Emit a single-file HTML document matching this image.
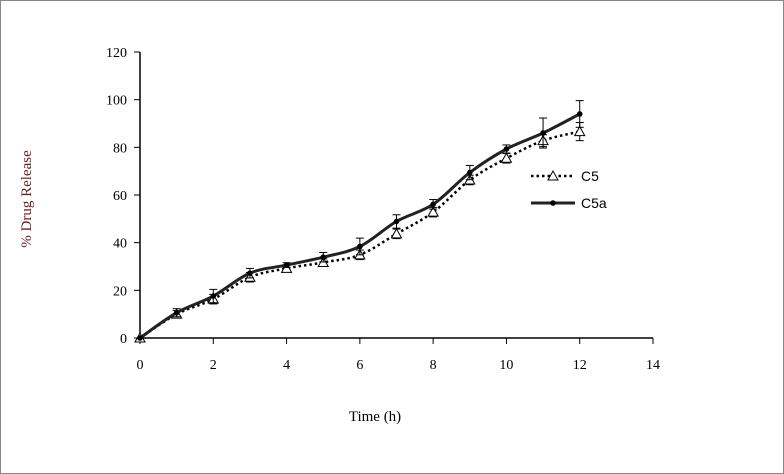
<!DOCTYPE html>
<html><head><meta charset="utf-8"><style>
html,body{margin:0;padding:0;background:#fff}
svg{display:block}
text{font-family:"Liberation Serif",serif;fill:#000}
</style></head><body>
<svg id="chart" width="784" height="474">
<rect x="0.5" y="0.5" width="783" height="473" fill="#fff" stroke="#888"/>
<g id="axes"></g><g id="series"></g>
<text x="375" y="421" font-size="15" text-anchor="middle">Time (h)</text>
<text transform="translate(31,199) rotate(-90)" font-size="15" text-anchor="middle" fill="#7a2a2a" style="fill:#6b2020">% Drug Release</text>
<g>
<g>
<line x1="531" y1="176" x2="575" y2="176" stroke="#000" stroke-width="2.5" stroke-dasharray="2.5,3"/>
<polygon points="553,171 548,180 558,180" fill="#fff" stroke="#000" stroke-width="1"/>
<text x="581" y="181" font-size="14" style="font-family:'Liberation Sans',sans-serif">C5</text></g>
<g>
<line x1="531" y1="203" x2="575" y2="203" stroke="#222" stroke-width="3"/>
<circle cx="553" cy="203" r="2.8" fill="#000"/>
<text x="581" y="208" font-size="14" style="font-family:'Liberation Sans',sans-serif">C5a</text></g>
</g>
</svg>
<script>
const times=[0,1,2,3,4,5,6,7,8,9,10,11,12];
const c5=[0,10,16.3,25.5,29.2,31.7,34.9,43.7,52.8,66.3,75.4,82.8,86.6];
const c5Err=[0,1.5,2,2,1.5,1.5,2,2,2,2,2,2.5,3.8];
const c5a=[0,10.6,17.6,27.2,30.6,33.9,38.4,48.9,56.1,69.4,79.3,86,94];
const c5aErr=[0,1.7,2.8,2,1,2,3.5,2.8,2,3,1.7,6.3,5.6];
const xTicks=[0,2,4,6,8,10,12,14];
const yTicks=[0,20,40,60,80,100,120];
const X=v=>140+v*(653-140)/14, Y=v=>338-v*(338-52)/120;
const NS="http://www.w3.org/2000/svg";
function mk(p,t,a){const e=document.createElementNS(NS,t);for(const k in a)e.setAttribute(k,a[k]);p.appendChild(e);return e;}
const ax=document.getElementById('axes');
let l=mk(ax,'line',{x1:X(0),y1:Y(0),x2:X(14),y2:Y(0),stroke:'#000','stroke-width':1.5});


l=mk(ax,'line',{x1:X(0),y1:Y(0),x2:X(0),y2:Y(120),stroke:'#000','stroke-width':1.5});


xTicks.forEach(t=>{mk(ax,'line',{x1:X(t),y1:338,x2:X(t),y2:344,stroke:'#000'});
const tx=mk(ax,'text',{x:X(t),y:369,'font-size':14,'text-anchor':'middle'});tx.textContent=t;

});
yTicks.forEach(t=>{mk(ax,'line',{x1:134,y1:Y(t),x2:140,y2:Y(t),stroke:'#000'});
const tx=mk(ax,'text',{x:127,y:Y(t)+5,'font-size':14,'text-anchor':'end'});tx.textContent=t;

});
const sg=document.getElementById('series');
function smooth(pts){let d=`M${pts[0][0]},${pts[0][1]}`;for(let i=0;i<pts.length-1;i++){const p0=pts[i-1]||pts[i],p1=pts[i],p2=pts[i+1],p3=pts[i+2]||p2;const t=0.17;
d+=` C${p1[0]+(p2[0]-p0[0])*t},${p1[1]+(p2[1]-p0[1])*t} ${p2[0]-(p3[0]-p1[0])*t},${p2[1]-(p3[1]-p1[1])*t} ${p2[0]},${p2[1]}`;}return d;}
function series(vals,errs,name,solid){
const g=mk(sg,'g',{});


vals.forEach((v,i)=>{if(!errs[i])return;const x=X(times[i]);
mk(g,'line',{x1:x,y1:Y(v-errs[i]),x2:x,y2:Y(v+errs[i]),stroke:'#000','stroke-width':1});
mk(g,'line',{x1:x-4,y1:Y(v+errs[i]),x2:x+4,y2:Y(v+errs[i]),stroke:'#000'});
mk(g,'line',{x1:x-4,y1:Y(v-errs[i]),x2:x+4,y2:Y(v-errs[i]),stroke:'#000'});});
const pts=vals.map((v,i)=>[X(times[i]),Y(v)]);
const p=mk(g,'path',{d:smooth(pts),fill:'none',stroke:solid?'#222':'#000','stroke-width':solid?3:2.5,'stroke-dasharray':solid?'none':'2.5,3'});


pts.forEach(([x,y])=>{let m;
if(solid)m=mk(g,'circle',{cx:x,cy:y,r:2.8,fill:'#000'});
else m=mk(g,'polygon',{points:`${x},${y-5} ${x-5},${y+4} ${x+5},${y+4}`,fill:'#fff',stroke:'#000','stroke-width':1});

});}
series(c5,c5Err,'c5',false);
series(c5a,c5aErr,'c5a',true);
</script>
</body></html>
